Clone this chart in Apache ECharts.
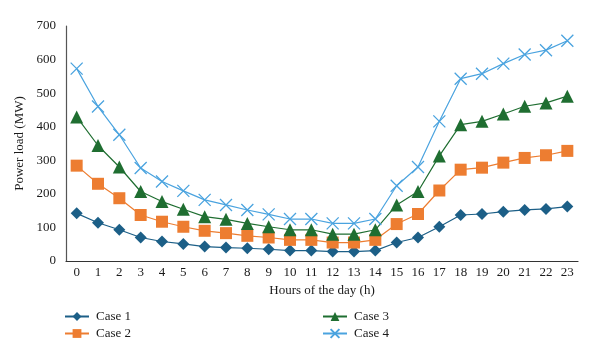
<!DOCTYPE html>
<html><head><meta charset="utf-8">
<script src="https://cdn.jsdelivr.net/npm/echarts@6/dist/echarts.min.js"></script>
<style>html,body{margin:0;padding:0;background:#fff}#c{width:600px;height:360px}</style>
</head><body><div id="c"></div>
<script>
const hours = ['0','1','2','3','4','5','6','7','8','9','10','11','12','13','14','15','16','17','18','19','20','21','22','23'];
const case1 = [142,114,93,70,58,51,43,40,38,35,31,31,28,28,31,55,70,102,137,140,147,152,155,162];
const case2 = [284,230,187,137,117,102,90,83,75,70,63,63,55,55,63,110,140,210,272,278,293,307,315,328];
const case3 = [429,344,280,207,177,154,132,124,112,102,93,93,80,80,93,167,207,313,406,416,438,461,471,491];
const case4 = [573,460,376,277,237,209,182,167,152,139,125,125,112,112,125,224,280,416,543,558,588,615,628,656];

const font = 'Liberation Serif';
const txt = '#1a1a1a';
const chart = echarts.init(document.getElementById('c'));
function mk(name, data, color, symbol, size, extra) {
  return Object.assign({
    name, type: 'line', data, symbol, symbolSize: size,
    lineStyle: {color, width: 1.2},
    itemStyle: {color},
    animation: false
  }, extra || {});
}
const legTxt = {fontFamily: font, fontSize: 13, color: txt, padding: [0, 0, 0, 2]};
chart.setOption({
  backgroundColor: '#fff',
  textStyle: {fontFamily: font},
  grid: {left: 66, right: 22, top: 26, bottom: 99},
  xAxis: {
    type: 'category', data: hours, boundaryGap: true,
    name: 'Hours of the day (h)', nameLocation: 'middle', nameGap: 23,
    nameTextStyle: {fontFamily: font, fontSize: 13, color: txt},
    axisLine: {lineStyle: {color: '#333', width: 1.2}},
    axisTick: {show: false},
    axisLabel: {fontFamily: font, fontSize: 13, color: txt, margin: 5, interval: 0}
  },
  yAxis: {
    type: 'value', min: 0, max: 700, interval: 100,
    name: 'Power load (MW)', nameLocation: 'middle', nameGap: 40,
    nameTextStyle: {fontFamily: font, fontSize: 13, color: txt},
    axisLine: {show: true, lineStyle: {color: '#555', width: 1.2}},
    axisTick: {show: false},
    splitLine: {show: false},
    axisLabel: {fontFamily: font, fontSize: 13, color: txt, margin: 10}
  },
  legend: [
    {data: ['Case 1', 'Case 2'], orient: 'vertical', left: 59, top: 305, itemGap: 4, itemWidth: 24, itemHeight: 11,
     textStyle: legTxt},
    {data: ['Case 3', 'Case 4'], orient: 'vertical', left: 317, top: 305, itemGap: 4, itemWidth: 24, itemHeight: 11,
     textStyle: legTxt}
  ],
  series: [
    mk('Case 1', case1, '#1c5f87', 'diamond', 12),
    mk('Case 2', case2, '#ed7d31', 'rect', 12),
    mk('Case 3', case3, '#1f6e31', 'triangle', 13),
    mk('Case 4', case4, '#4aa3df', 'path://M0,0L10,10M10,0L0,10', 12,
       {itemStyle: {color: '#4aa3df', borderColor: '#4aa3df', borderWidth: 1.3}})
  ]
});
</script></body></html>
